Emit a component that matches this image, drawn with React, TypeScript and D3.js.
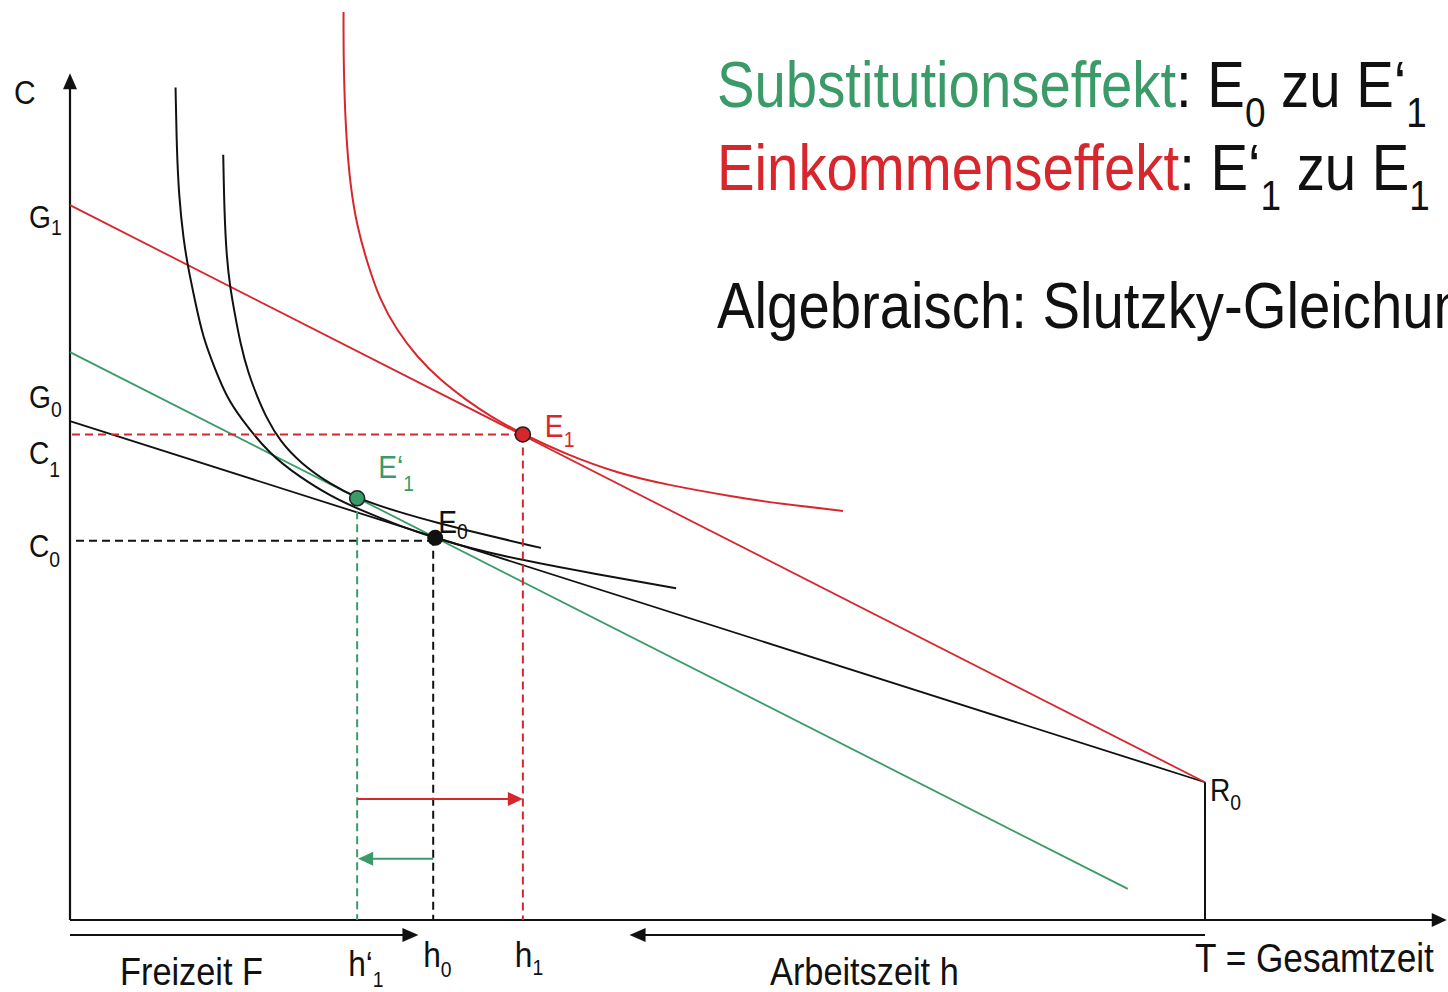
import React from "react";
import * as d3 from "d3";

const W = 1448;
const H = 992;
const GREEN = "#3a9b68";
const RED = "#d7272d";
const INK = "#111";
const FONT = "'Liberation Sans', Arial, sans-serif";

// model units: F = Freizeit (0..T), C = Konsum
const T = 100;
const C_MAX = 100;
const G0 = 59.4;
const G1 = 85.1;
const R0 = 16.4;

const budgetOld = [[0, G0], [T, R0]];
const budgetNew = [[0, G1], [T, R0]];
const budgetCompensated = [[0, 67.6], [93.2, 3.7]];

// equilibria [F, C]
const E0 = [32.0, 45.5];
const E1prime = [25.3, 50.2];
const E1 = [39.9, 57.8];

// indifference curves
const curveE0 = [
  [9.3, 99.1], [9.4, 92.0], [9.6, 86.1], [10.0, 81.0], [10.4, 77.7],
  [11.0, 73.8], [11.7, 69.4], [12.8, 65.5], [13.8, 62.3], [15.0, 59.8],
  [17.6, 55.4], [20.3, 52.7], [22.9, 50.5], [25.6, 48.8], [29.1, 46.9],
  [32.0, 45.5], [37.9, 43.3], [46.7, 41.1], [53.4, 39.5],
];
const curveE1prime = [
  [13.5, 91.1], [13.6, 84.2], [13.8, 78.9], [14.1, 75.4], [14.5, 72.3],
  [15.0, 68.7], [15.7, 65.1], [16.5, 62.3], [17.3, 59.8], [18.5, 57.0],
  [20.3, 54.4], [22.9, 51.9], [25.3, 50.2], [29.1, 48.5], [32.3, 47.3],
  [37.0, 45.7], [41.5, 44.3],
];
const curveE1 = [
  [24.1, 108.1], [24.1, 101.6], [24.3, 93.7], [24.7, 87.3], [25.3, 82.5],
  [26.2, 78.2], [27.3, 73.8], [28.8, 70.2], [30.6, 67.0], [32.6, 64.3],
  [35.0, 61.8], [37.0, 60.0], [39.9, 57.8], [43.8, 55.4], [48.2, 53.2],
  [52.6, 51.8], [58.4, 50.4], [62.8, 49.5], [68.1, 48.7],
];

const x = d3.scaleLinear().domain([0, T]).range([70, 1205]);
const y = d3.scaleLinear().domain([0, C_MAX]).range([920, 80]);

const straight = d3.line<number[]>().x((d) => x(d[0])).y((d) => y(d[1]));
const smooth = d3
  .line<number[]>()
  .x((d) => x(d[0]))
  .y((d) => y(d[1]))
  .curve(d3.curveBasis);

// filled triangle, tip at (tx,ty), pointing in direction dir
const head = (tx: number, ty: number, dir: "r" | "l" | "u", len = 15, half = 7) => {
  if (dir === "r") return `${tx},${ty} ${tx - len},${ty - half} ${tx - len},${ty + half}`;
  if (dir === "l") return `${tx},${ty} ${tx + len},${ty - half} ${tx + len},${ty + half}`;
  return `${tx},${ty} ${tx - half},${ty + len} ${tx + half},${ty + len}`;
};

type LblProps = {
  x: number;
  y: number;
  text: string;
  sub?: string;
  size?: number;
  subSize?: number;
  subDy?: number;
  fill?: string;
};

const Lbl = ({ x, y, text, sub, size = 32, subSize = 22, subDy = 10, fill = INK }: LblProps) => (
  <text transform={`translate(${x},${y}) scale(0.88,1)`} fill={fill} fontSize={size}>
    {text}
    {sub && (
      <tspan fontSize={subSize} dy={subDy}>
        {sub}
      </tspan>
    )}
  </text>
);

export default function App() {
  const dash = "8 5";
  const arrowLevelRed = 14.4;
  const arrowLevelGreen = 7.3;
  const belowAxis = 935;
  const freizeitEnd = 30.7;
  const arbeitEnd = 49.3;

  return (
    <svg
      width={W}
      height={H}
      style={{ position: "absolute", left: 0, top: 0, background: "#fff" }}
      fontFamily={FONT}
    >
      {/* axes */}
      <line x1={x(0)} y1={y(0)} x2={x(120)} y2={y(0)} stroke={INK} strokeWidth={2.2} />
      <polygon points={head(x(121.3), y(0), "r")} fill={INK} />
      <line x1={x(0)} y1={y(0)} x2={x(0)} y2={y(99)} stroke={INK} strokeWidth={2.2} />
      <polygon points={head(x(0), y(100.8), "u", 16, 7)} fill={INK} />

      {/* budget lines */}
      <path d={straight(budgetCompensated)!} fill="none" stroke={GREEN} strokeWidth={1.8} />
      <path d={straight(budgetOld)!} fill="none" stroke={INK} strokeWidth={1.8} />
      <path d={straight(budgetNew)!} fill="none" stroke={RED} strokeWidth={1.8} />
      <line x1={x(T)} y1={y(R0)} x2={x(T)} y2={y(0)} stroke={INK} strokeWidth={2} />

      {/* indifference curves */}
      <path d={smooth(curveE0)!} fill="none" stroke={INK} strokeWidth={2} />
      <path d={smooth(curveE1prime)!} fill="none" stroke={INK} strokeWidth={2} />
      <path d={smooth(curveE1)!} fill="none" stroke={RED} strokeWidth={2} />

      {/* dashed guides */}
      <line x1={x(0) + 2} y1={y(E1[1])} x2={x(E1[0])} y2={y(E1[1])} stroke={RED} strokeWidth={2} strokeDasharray={dash} />
      <line x1={x(E1[0])} y1={y(E1[1])} x2={x(E1[0])} y2={y(0)} stroke={RED} strokeWidth={2} strokeDasharray={dash} />
      <line x1={x(0) + 6} y1={y(E0[1]) + 3} x2={x(E0[0])} y2={y(E0[1]) + 3} stroke={INK} strokeWidth={2} strokeDasharray={dash} />
      <line x1={x(E0[0])} y1={y(E0[1])} x2={x(E0[0])} y2={y(0)} stroke={INK} strokeWidth={2} strokeDasharray={dash} />
      <line x1={x(E1prime[0])} y1={y(E1prime[1])} x2={x(E1prime[0])} y2={y(0)} stroke={GREEN} strokeWidth={2} strokeDasharray={dash} />

      {/* effect arrows */}
      <line x1={x(E1prime[0])} y1={y(arrowLevelRed)} x2={x(E1[0]) - 14} y2={y(arrowLevelRed)} stroke={RED} strokeWidth={2} />
      <polygon points={head(x(E1[0]), y(arrowLevelRed), "r")} fill={RED} />
      <line x1={x(E0[0])} y1={y(arrowLevelGreen)} x2={x(E1prime[0]) + 14} y2={y(arrowLevelGreen)} stroke={GREEN} strokeWidth={2} />
      <polygon points={head(x(E1prime[0]) + 1, y(arrowLevelGreen), "l")} fill={GREEN} />

      {/* arrows below the axis */}
      <line x1={x(0)} y1={belowAxis} x2={x(freizeitEnd) - 14} y2={belowAxis} stroke={INK} strokeWidth={2} />
      <polygon points={head(x(freizeitEnd), belowAxis, "r", 16, 7)} fill={INK} />
      <line x1={x(T)} y1={belowAxis} x2={x(arbeitEnd) + 14} y2={belowAxis} stroke={INK} strokeWidth={2} />
      <polygon points={head(x(arbeitEnd), belowAxis, "l", 16, 7)} fill={INK} />

      {/* equilibrium points */}
      <circle cx={x(E1[0])} cy={y(E1[1])} r={7.5} fill={RED} stroke="#222" strokeWidth={1.6} />
      <circle cx={x(E1prime[0])} cy={y(E1prime[1])} r={7.5} fill={GREEN} stroke="#222" strokeWidth={1.6} />
      <circle cx={x(E0[0]) + 2} cy={y(E0[1])} r={8} fill={INK} />

      {/* axis labels */}
      <Lbl x={14} y={104} text="C" size={34} />
      <Lbl x={29} y={y(G1) + 23} text="G" sub="1" subDy={7} />
      <Lbl x={29} y={y(G0) - 13} text="G" sub="0" subDy={9} />
      <Lbl x={29} y={y(E1[1]) + 30} text="C" sub="1" subDy={13} />
      <Lbl x={29} y={y(E0[1]) + 19} text="C" sub="0" subDy={10} />

      <Lbl x={x(E1[0]) + 22} y={y(E1[1]) + 3} text="E" sub="1" fill={RED} subDy={10} />
      <Lbl x={x(E1prime[0]) + 21} y={y(E1prime[1]) - 20} text="E‘" sub="1" fill={GREEN} subDy={13} />
      <Lbl x={x(E0[0]) + 5} y={y(E0[1]) - 5} text="E" sub="0" subDy={6} />
      <Lbl x={x(T) + 5} y={y(R0) + 19} text="R" sub="0" subDy={9} />

      <Lbl x={x(E1prime[0]) - 9} y={976} text="h‘" sub="1" size={36} subDy={11} />
      <Lbl x={x(E0[0]) - 10} y={967} text="h" sub="0" size={36} subDy={10} />
      <Lbl x={x(E1[0]) - 8} y={967} text="h" sub="1" size={36} subDy={8} />

      <Lbl x={120} y={985} text="Freizeit F" size={39} />
      <Lbl x={770} y={985} text="Arbeitszeit h" size={39} />
      <Lbl x={1195} y={972} text="T = Gesamtzeit" size={40} />

      {/* explanation block */}
      <text transform="translate(717,107) scale(0.88,1)" fontSize={64} fill={INK}>
        <tspan fill={GREEN}>Substitutionseffekt</tspan>
        <tspan>: E</tspan>
        <tspan fontSize={42} dy={20}>0</tspan>
        <tspan dy={-20}> zu E‘</tspan>
        <tspan fontSize={42} dy={20}>1</tspan>
      </text>
      <text transform="translate(717,190) scale(0.88,1)" fontSize={64} fill={INK}>
        <tspan fill={RED}>Einkommenseffekt</tspan>
        <tspan>: E‘</tspan>
        <tspan fontSize={42} dy={20}>1</tspan>
        <tspan dy={-20}> zu E</tspan>
        <tspan fontSize={42} dy={20}>1</tspan>
      </text>
      <text transform="translate(717,328) scale(0.88,1)" fontSize={64} fill={INK}>
        Algebraisch: Slutzky-Gleichung
      </text>
    </svg>
  );
}
